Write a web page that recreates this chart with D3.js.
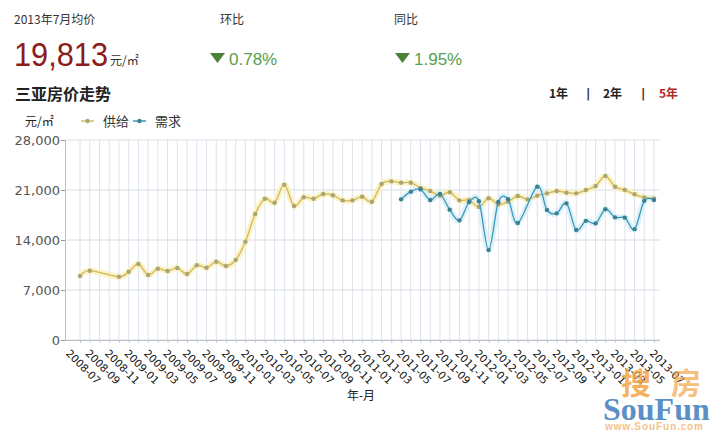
<!DOCTYPE html>
<html><head><meta charset="utf-8">
<script src="https://cdn.jsdelivr.net/npm/d3@7"></script>
<style>body{margin:0;background:#fff}svg{display:block}</style>
</head><body>
<svg id="c" width="721" height="440"></svg>
<script>
const months = ["2008-07","2008-08","2008-09","2008-10","2008-11","2008-12",
"2009-01","2009-02","2009-03","2009-04","2009-05","2009-06","2009-07","2009-08","2009-09","2009-10","2009-11","2009-12",
"2010-01","2010-02","2010-03","2010-04","2010-05","2010-06","2010-07","2010-08","2010-09","2010-10","2010-11","2010-12",
"2011-01","2011-02","2011-03","2011-04","2011-05","2011-06","2011-07","2011-08","2011-09","2011-10","2011-11","2011-12",
"2012-01","2012-02","2012-03","2012-04","2012-05","2012-06","2012-07","2012-08","2012-09","2012-10","2012-11","2012-12",
"2013-01","2013-02","2013-03","2013-04","2013-05","2013-06","2013-07"];
const supply = [null,8960,9700,null,null,8860,9560,10640,9100,9980,9660,10080,9240,10460,10120,10960,10360,11200,
13760,17640,19780,19220,21740,18760,19980,19780,20440,20260,19550,19550,20060,19360,21840,22210,22020,22020,
21300,20860,20200,20700,19550,19600,18620,19850,19000,19370,20160,19690,20207,20530,20860,20630,20530,21000,
21560,22960,21460,21000,20400,19970,19813];
const demand = [null,null,null,null,null,null,null,null,null,null,null,null,null,null,null,null,null,null,
null,null,null,null,null,null,null,null,null,null,null,null,null,null,null,null,19690,20770,
21100,19600,20440,18250,16750,19300,19420,12600,19320,19710,16380,null,21470,18200,17730,19130,15400,16680,
16330,18300,17170,17130,15520,19480,19600];
const yTicks = [0,7000,14000,21000,28000];
const xLabels = months.filter((m,i)=>i%2===0);
const seriesNames = ["供给","需求"];
const header = {title:"2013年7月均价", price:"19,813", unit:"元/㎡", mom:"0.78%", yoy:"1.95%"};
const ranges = ["1年","2年","5年"];

const svg = d3.select("#c");
const cjk = "'Noto Sans CJK SC', 'DejaVu Sans', sans-serif";
const num = "'DejaVu Sans', sans-serif";

// header
svg.append("text").attr("x",14).attr("y",24).attr("font-family",cjk).attr("font-size",12).attr("fill","#333").text(header.title);
svg.append("text").attr("x",220).attr("y",24).attr("font-family",cjk).attr("font-size",12).attr("fill","#333").text("环比");
svg.append("text").attr("x",394).attr("y",24).attr("font-family",cjk).attr("font-size",12).attr("fill","#333").text("同比");
svg.append("text").attr("x",14).attr("y",66).attr("font-family","'Liberation Sans', Arial, sans-serif").attr("font-size",33)
  .attr("fill","#8c1b1b").attr("textLength",94).attr("lengthAdjust","spacingAndGlyphs").text(header.price);
svg.append("text").attr("x",110).attr("y",65).attr("font-family",cjk).attr("font-size",12).attr("fill","#333").text(header.unit);
[[210,header.mom],[395,header.yoy]].forEach(([x,t])=>{
  svg.append("path").attr("d",`M${x},53L${x+15},53L${x+7.5},63Z`).attr("fill","#4d8236");
  svg.append("text").attr("x",x+19).attr("y",65).attr("font-family","'Liberation Sans', Arial, sans-serif").attr("font-size",17)
    .attr("fill","#58a050").text(t);
});
svg.append("text").attr("x",15).attr("y",100).attr("font-family",cjk).attr("font-size",16).attr("font-weight","bold").attr("fill","#222").text("三亚房价走势");
const rx=[549,603,659];
ranges.forEach((r,i)=>{
  svg.append("text").attr("x",rx[i]).attr("y",98).attr("font-family",cjk).attr("font-size",12).attr("font-weight","bold")
    .attr("fill",i===2?"#b02a2a":"#222").text(r);
});
[586,641].forEach(x=>svg.append("text").attr("x",x).attr("y",98).attr("font-family",num).attr("font-size",12).attr("font-weight","bold").attr("fill","#333").text("|"));

// legend
svg.append("text").attr("x",25).attr("y",126).attr("font-family",cjk).attr("font-size",12).attr("fill","#222").text(header.unit);
const legColors=[["#d4bc5c","#a9a575"],["#3c98bb","#3a8090"]];
const legX=[81,133];
seriesNames.forEach((n,i)=>{
  const g=svg.append("g");
  g.append("line").attr("x1",legX[i]).attr("x2",legX[i]+13).attr("y1",121).attr("y2",121).attr("stroke",legColors[i][0]).attr("stroke-width",1.5);
  g.append("circle").attr("cx",legX[i]+6.5).attr("cy",121).attr("r",2.2).attr("fill",legColors[i][1]);
  g.append("text").attr("x",legX[i]+22).attr("y",126).attr("font-family",cjk).attr("font-size",13).attr("fill","#333").text(n);
});

// scales
const x = d3.scalePoint().domain(months).range([70.3,654]);
const y = d3.scaleLinear().domain([0,28000]).range([340,140]);
const left=65, right=660;

// grid
svg.append("g").selectAll("line").data(months.slice(1)).join("line")
  .attr("x1",d=>x(d)).attr("x2",d=>x(d)).attr("y1",140).attr("y2",340).attr("stroke","#dde2ea").attr("stroke-width",1);
svg.append("g").selectAll("line").data(yTicks).join("line")
  .attr("x1",left).attr("x2",right).attr("y1",d=>y(d)).attr("y2",d=>y(d)).attr("stroke","#d8dde4").attr("stroke-width",1);

// y axis
const ya = svg.append("g").attr("transform",`translate(${left},0)`)
  .call(d3.axisLeft(y).tickValues(yTicks).tickFormat(d3.format(",")).tickSize(4).tickPadding(1));
ya.select(".domain").attr("stroke","#b8c0c8");
ya.selectAll(".tick line").attr("stroke","#999");
ya.selectAll("text").attr("font-family",num).attr("font-size",13).attr("fill","#555");

// x axis
const xa = svg.append("g").attr("transform","translate(0,340)")
  .call(d3.axisBottom(x).tickValues(months.slice(1)).tickFormat("").tickSize(3));
xa.select(".domain").attr("d",`M${left},0.5H${right}`).attr("stroke","#b8c0c8");
xa.selectAll(".tick line").attr("stroke","#c0c8d0");
svg.append("g").selectAll("text").data(xLabels).join("text")
  .attr("transform",d=>`translate(${x(d)-5},354) rotate(45)`)
  .attr("font-family",num).attr("font-size",10.5).attr("fill","#111").text(d=>d);
svg.append("text").attr("x",361).attr("y",400).attr("text-anchor","middle").attr("font-family",cjk).attr("font-size",12).attr("fill","#222").text("年-月");

// series
const line = d3.line().x(d=>x(d.m)).y(d=>y(d.v)).curve(d3.curveCatmullRom.alpha(0));
const series = [
  {vals:supply, halo:"#fbf1bf", stroke:"#d2b858", mark:"#aaa577"},
  {vals:demand, halo:"#d9f0f8", stroke:"#3b97ba", mark:"#3a8090"}
];
series.forEach(s=>{
  const pts = months.map((m,i)=>({m, v:s.vals[i]})).filter(d=>d.v!=null);
  svg.append("path").attr("d",line(pts)).attr("fill","none").attr("stroke",s.halo).attr("stroke-width",6).attr("stroke-linejoin","round").attr("opacity",0.9);
});
series.forEach(s=>{
  const pts = months.map((m,i)=>({m, v:s.vals[i]})).filter(d=>d.v!=null);
  svg.append("path").attr("d",line(pts)).attr("fill","none").attr("stroke",s.stroke).attr("stroke-width",1.3);
  svg.append("g").selectAll("circle").data(pts).join("circle")
    .attr("cx",d=>x(d.m)).attr("cy",d=>y(d.v)).attr("r",2.2).attr("fill",s.mark);
});

// watermark
const wm = svg.append("g").attr("opacity",0.85);
wm.append("text").attr("x",621).attr("y",394).attr("font-family",cjk).attr("font-size",30).attr("font-weight","bold").attr("fill","#f3a447").text("搜");
wm.append("text").attr("x",671).attr("y",394).attr("font-family",cjk).attr("font-size",30).attr("font-weight","bold").attr("fill","#f3a447").attr("opacity",0.8).text("房");
wm.append("text").attr("x",603).attr("y",420).attr("font-family","'Liberation Serif', serif").attr("font-size",32).attr("font-weight","bold").attr("fill","#3f7cbc").text("SouFun");
wm.append("text").attr("x",605).attr("y",430).attr("font-family","'Liberation Sans', sans-serif").attr("font-size",10).attr("font-weight","bold").attr("fill","#f2b878").attr("textLength",98).text("www.SouFun.com");
</script>
</body></html>
